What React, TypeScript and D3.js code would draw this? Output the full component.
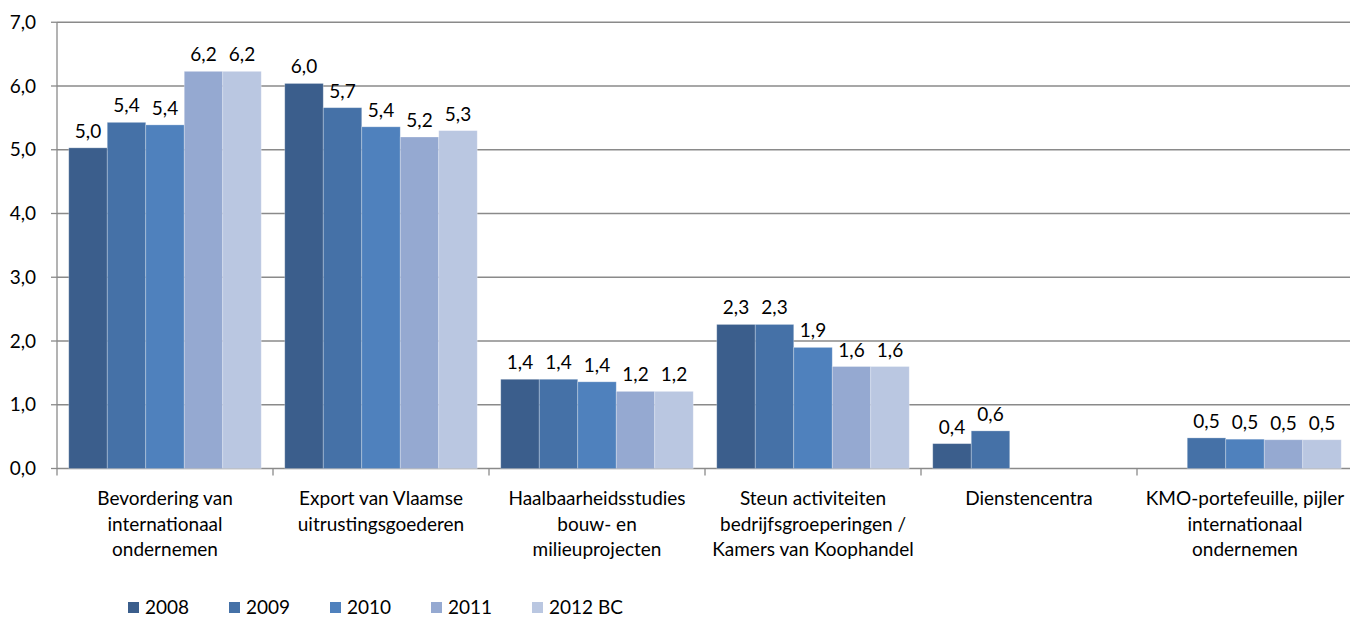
import React from "react";
import * as d3 from "d3";

const categories: string[][] = [
  ["Bevordering van", "internationaal", "ondernemen"],
  ["Export van Vlaamse", "uitrustingsgoederen"],
  ["Haalbaarheidsstudies", "bouw- en", "milieuprojecten"],
  ["Steun activiteiten", "bedrijfsgroeperingen /", "Kamers van Koophandel"],
  ["Dienstencentra"],
  ["KMO-portefeuille, pijler", "internationaal", "ondernemen"],
];

const seriesNames = ["2008", "2009", "2010", "2011", "2012 BC"];

const v2008: (number | null)[] = [5.03, 6.04, 1.4, 2.26, 0.39, null];
const v2009: (number | null)[] = [5.43, 5.66, 1.4, 2.26, 0.59, 0.48];
const v2010: (number | null)[] = [5.39, 5.36, 1.36, 1.9, null, 0.46];
const v2011: (number | null)[] = [6.23, 5.2, 1.21, 1.6, null, 0.451];
const v2012: (number | null)[] = [6.23, 5.3, 1.21, 1.6, null, 0.451];

const seriesValues = [v2008, v2009, v2010, v2011, v2012];
const seriesColors = ["#3B5E8C", "#4571A7", "#4F81BD", "#95A9D1", "#BAC7E1"];

const yTicks = [0, 1, 2, 3, 4, 5, 6, 7];

const W = 1350;
const H = 618;
const FONT = "Lato, 'Open Sans', sans-serif";

export default function App() {
  const left = 57;
  const catW = 216;
  const x0 = d3
    .scaleBand<number>()
    .domain(categories.map((_, i) => i))
    .range([left, left + catW * categories.length])
    .padding(0);
  const x1 = d3
    .scaleBand<string>()
    .domain(seriesNames)
    .range([11.75, catW - 11.75])
    .padding(0);
  const y = d3.scaleLinear().domain([0, 7]).range([468.5, 22.25]);
  const fmt = (v: number) => v.toFixed(1).replace(".", ",");

  return (
    <div style={{ position: "absolute", left: 0, top: 0 }}>
      <svg width={W} height={H} style={{ display: "block", background: "#fff" }}>
        {yTicks.map((t) => (
          <g key={"g" + t}>
            <line x1={left} x2={W} y1={y(t)} y2={y(t)} stroke="#8A8A8A" strokeWidth={1.3} />
            <line x1={left - 6} x2={left} y1={y(t)} y2={y(t)} stroke="#8A8A8A" strokeWidth={1.3} />
            <text
              x={36}
              y={y(t)}
              dy="0.35em"
              textAnchor="end"
              fontFamily={FONT}
              fontSize={19}
              fill="#000"
            >
              {fmt(t)}
            </text>
          </g>
        ))}
        <line x1={left} x2={left} y1={y(7)} y2={y(0)} stroke="#8A8A8A" strokeWidth={1.3} />
        {d3.range(categories.length + 1).map((i) => (
          <line
            key={"ct" + i}
            x1={left + i * catW}
            x2={left + i * catW}
            y1={y(0)}
            y2={y(0) + 7}
            stroke="#8A8A8A"
            strokeWidth={1.3}
          />
        ))}
        {seriesValues.map((vals, si) =>
          vals.map((v, ci) =>
            v === null ? null : (
              <g key={`b${si}-${ci}`}>
                <rect
                  x={(x0(ci) as number) + (x1(seriesNames[si]) as number)}
                  y={y(v)}
                  width={x1.bandwidth()}
                  height={y(0) - y(v)}
                  fill={seriesColors[si]}
                  stroke="rgba(255,255,255,0.35)"
                  strokeWidth={0.8}
                />
                <text
                  x={(x0(ci) as number) + (x1(seriesNames[si]) as number) + x1.bandwidth() / 2}
                  y={y(v) - 10}
                  textAnchor="middle"
                  fontFamily={FONT}
                  fontSize={19}
                  fill="#000"
                >
                  {fmt(v)}
                </text>
              </g>
            )
          )
        )}
        {categories.map((lines, ci) => (
          <text
            key={"cl" + ci}
            x={(x0(ci) as number) + catW / 2}
            y={505}
            textAnchor="middle"
            fontFamily={FONT}
            fontSize={19}
            fill="#000"
          >
            {lines.map((l, li) => (
              <tspan key={li} x={(x0(ci) as number) + catW / 2} y={505 + li * 25.5}>
                {l}
              </tspan>
            ))}
          </text>
        ))}
        {seriesNames.map((n, si) => (
          <g key={"lg" + si} transform={`translate(${128 + si * 101},602)`}>
            <rect x={0} y={0} width={11} height={11} fill={seriesColors[si]} />
            <text x={17} y={12} fontFamily={FONT} fontSize={19} fill="#000">
              {n}
            </text>
          </g>
        ))}
      </svg>
    </div>
  );
}
